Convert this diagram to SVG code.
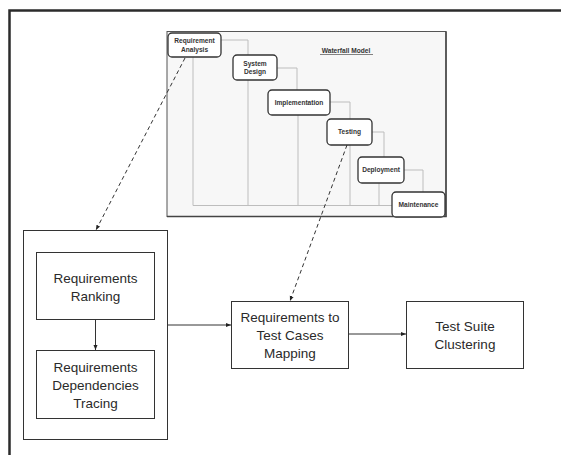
<svg xmlns="http://www.w3.org/2000/svg" width="561" height="455" viewBox="0 0 561 455">
<defs>
<marker id="ah" viewBox="0 0 10 10" refX="10" refY="5" markerWidth="5" markerHeight="5" orient="auto"><path d="M0,1 L10,5 L0,9 z" fill="#222"/></marker>
</defs>
<style>
.t{font-family:"Liberation Sans",Arial,sans-serif;font-size:13.5px;fill:#2a2a2a;text-anchor:middle}
.w{font-family:"Liberation Sans",Arial,sans-serif;font-size:6.6px;font-weight:bold;fill:#333;text-anchor:middle}
.box{fill:#fff;stroke:#333;stroke-width:1}
.wb{fill:#fff;stroke:#333;stroke-width:1.3}
.wl{fill:none;stroke:#bdbdbd;stroke-width:1}
.c{fill:none;stroke:#333;stroke-width:1}
.d{fill:none;stroke:#333;stroke-width:1;stroke-dasharray:4,3}
</style>
<rect width="561" height="455" fill="#fff"/>
<path d="M9.5,455 V10.5 H561" fill="none" stroke="#2b2b2b" stroke-width="2.5"/>
<g id="waterfall">
<rect x="167" y="31.5" width="279" height="185" fill="#f7f7f7" stroke="#555" stroke-width="1"/>
<path d="M167,216.5 H446 V31.5" fill="none" stroke="#444" stroke-width="1.5"/>
<g class="wl">
<path d="M221,40 H248 V55"/>
<path d="M277,68 H297 V90"/>
<path d="M330,102 H350 V119"/>
<path d="M372,132 H384 V157"/>
<path d="M404,170 H423 V192"/>
<path d="M193,57 V205.5 H392"/>
<path d="M248,80 V205.5"/>
<path d="M298,115 V205.5"/>
<path d="M350,145 V205.5"/>
<path d="M379,183 V205.5"/>
</g>
<text class="w" x="346" y="53">Waterfall Model</text>
<line x1="320" y1="54.5" x2="373" y2="54.5" stroke="#333" stroke-width="0.6"/>
<g id="wf-ra"><rect class="wb" x="168" y="33" width="53" height="24" rx="4"/><text class="w" x="194.5" y="43">Requirement</text><text class="w" x="194.5" y="51.5">Analysis</text></g>
<g id="wf-sd"><rect class="wb" x="233" y="55" width="44" height="25" rx="4"/><text class="w" x="255" y="65.5">System</text><text class="w" x="255" y="74">Design</text></g>
<g id="wf-impl"><rect class="wb" x="268" y="90" width="62" height="25" rx="4"/><text class="w" x="299" y="104.5">Implementation</text></g>
<g id="wf-test"><rect class="wb" x="327" y="119" width="45" height="26" rx="4"/><text class="w" x="349.5" y="134">Testing</text></g>
<g id="wf-dep"><rect class="wb" x="358" y="157" width="46" height="26" rx="4"/><text class="w" x="381" y="172">Deployment</text></g>
<g id="wf-maint"><rect class="wb" x="392" y="192" width="53" height="25" rx="4"/><text class="w" x="418.5" y="206.5">Maintenance</text></g>
</g>
<g id="group-box"><rect x="23.5" y="230.5" width="144" height="209" fill="#fff" stroke="#333" stroke-width="1"/></g>
<g id="ranking"><rect class="box" x="36.5" y="252.5" width="118" height="67"/><text class="t" x="95.5" y="283">Requirements</text><text class="t" x="95.5" y="301">Ranking</text></g>
<g id="tracing"><rect class="box" x="36.5" y="350.5" width="118" height="68"/><text class="t" x="95.5" y="372">Requirements</text><text class="t" x="95.5" y="390">Dependencies</text><text class="t" x="95.5" y="408">Tracing</text></g>
<g id="mapping"><rect class="box" x="231.5" y="301.5" width="117" height="67"/><text class="t" x="290" y="322">Requirements to</text><text class="t" x="290" y="340">Test Cases</text><text class="t" x="290" y="358">Mapping</text></g>
<g id="clustering"><rect class="box" x="406.5" y="301.5" width="117" height="67"/><text class="t" x="465" y="331">Test Suite</text><text class="t" x="465" y="349">Clustering</text></g>
<g id="connectors">
<line class="c" x1="95.5" y1="319.5" x2="95.5" y2="350" marker-end="url(#ah)"/>
<line class="c" x1="167.5" y1="325" x2="231" y2="325" marker-end="url(#ah)"/>
<line class="c" x1="348.5" y1="334" x2="406" y2="334" marker-end="url(#ah)"/>
<line class="d" x1="185" y1="58" x2="96" y2="230" marker-end="url(#ah)"/>
<line class="d" x1="347" y1="145" x2="290" y2="301" marker-end="url(#ah)"/>
</g>
</svg>
